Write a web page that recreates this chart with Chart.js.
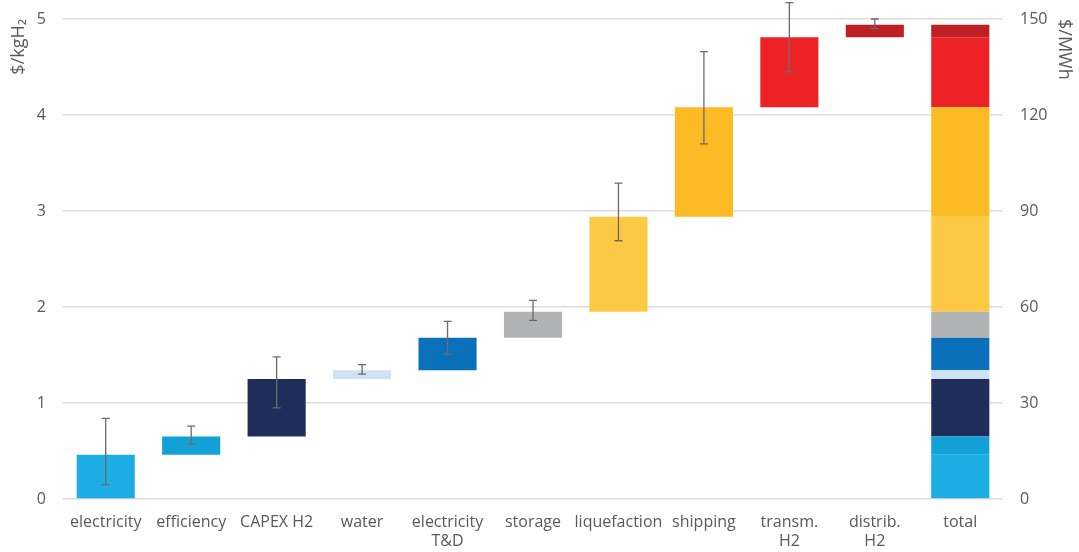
<!DOCTYPE html>
<html>
<head>
<meta charset="utf-8">
<script src="https://cdn.jsdelivr.net/npm/chart.js@4/dist/chart.umd.min.js"></script>
<style>
  html, body { margin: 0; padding: 0; background: #fff; }
  #wrap { width: 1079px; height: 552px; }
</style>
</head>
<body>
<div id="wrap"><canvas id="costChart" width="1079" height="552"></canvas></div>
<script>
// categories along the x axis
var categories = ['electricity', 'efficiency', 'CAPEX H2', 'water', ['electricity', 'T&D'],
    'storage', 'liquefaction', 'shipping', ['transm.', 'H2'], ['distrib.', 'H2'], 'total'];

// running total ($/kgH2) at the top of each component
var tops = [0.46, 0.65, 1.25, 1.34, 1.68, 1.95, 2.94, 4.08, 4.81, 4.94];

// error bar ranges ($/kgH2)
var errLow = [0.15, 0.57, 0.95, 1.30, 1.51, 1.86, 2.69, 3.70, 4.45, 4.90];
var errHigh = [0.84, 0.76, 1.48, 1.40, 1.85, 2.07, 3.29, 4.66, 5.17, 5.00];

var colors = ['#1cade4', '#12a0d7', '#1f2d5a', '#cfe2f3', '#0a70b9',
    '#b1b3b4', '#fdc843', '#fcbb25', '#ec2227', '#c01f26'];

var totalIndex = categories.length - 1;

// one dataset per component: its own floating bar plus its slice of the total
var datasets = tops.map(function(top, i) {
    var start = i === 0 ? 0 : tops[i - 1];
    var data = categories.map(function() { return null; });
    data[i] = [start, top];
    data[totalIndex] = [start, top];
    return {
        data: data,
        backgroundColor: colors[i],
        borderWidth: 0,
        grouped: false,
        barPercentage: 0.68,
        categoryPercentage: 1.0,
        yAxisID: 'y'
    };
});

// draws whiskers using the y scale
var errorBars = {
    id: 'errorBars',
    afterDatasetsDraw: function(chart) {
        var ctx = chart.ctx;
        var x = chart.scales.x, y = chart.scales.y;
        ctx.save();
        ctx.strokeStyle = '#6b6b6b';
        ctx.lineWidth = 1.3;
        errLow.forEach(function(lo, i) {
            var cx = x.getPixelForValue(i);
            var y1 = y.getPixelForValue(lo);
            var y2 = y.getPixelForValue(errHigh[i]);
            ctx.beginPath();
            ctx.moveTo(cx, y1); ctx.lineTo(cx, y2);
            ctx.moveTo(cx - 4, y1); ctx.lineTo(cx + 4, y1);
            ctx.moveTo(cx - 4, y2); ctx.lineTo(cx + 4, y2);
            ctx.stroke();
        });
        ctx.restore();
    }
};

var tickFont = { family: 'Open Sans', size: 16 };
var titleFont = { family: 'Open Sans', size: 18 };
var tickColor = '#595959';

// fixed vertical axis widths, no extra label overflow at the top
function fitY(width) {
    return function(s) { s.width = width; s.paddingTop = 0; s.paddingBottom = 0; };
}

new Chart(document.getElementById('costChart').getContext('2d'), {
    type: 'bar',
    data: { labels: categories, datasets: datasets },
    options: {
        responsive: false,
        animation: false,
        layout: { padding: { top: 19, right: 0, bottom: 0, left: 0 } },
        plugins: { legend: { display: false }, tooltip: { enabled: false } },
        scales: {
            x: {
                grid: { display: false },
                border: { display: false },
                ticks: { font: tickFont, color: tickColor, maxRotation: 0, autoSkip: false, padding: 6 },
                afterFit: function(s) { s.height = 53; }
            },
            y: {
                position: 'left',
                min: 0, max: 5,
                ticks: { stepSize: 1, font: tickFont, color: tickColor, padding: 17 },
                grid: { color: '#dcdcdc', lineWidth: 1.5, drawTicks: false },
                border: { display: false },
                title: { display: true, text: '$/kgH\u2082', align: 'end', font: titleFont, color: tickColor, padding: { top: 8, bottom: 0 } },
                afterFit: fitY(63)
            },
            y1: {
                position: 'right',
                min: 0, max: 150,
                ticks: { stepSize: 30, font: tickFont, color: tickColor, padding: 17 },
                grid: { display: false, drawTicks: false },
                border: { display: false },
                title: { display: true, text: '$/MWh', align: 'end', font: titleFont, color: tickColor, padding: { top: 4, bottom: 0 } },
                afterFit: fitY(76)
            }
        }
    },
    plugins: [errorBars]
});
</script>
</body>
</html>
